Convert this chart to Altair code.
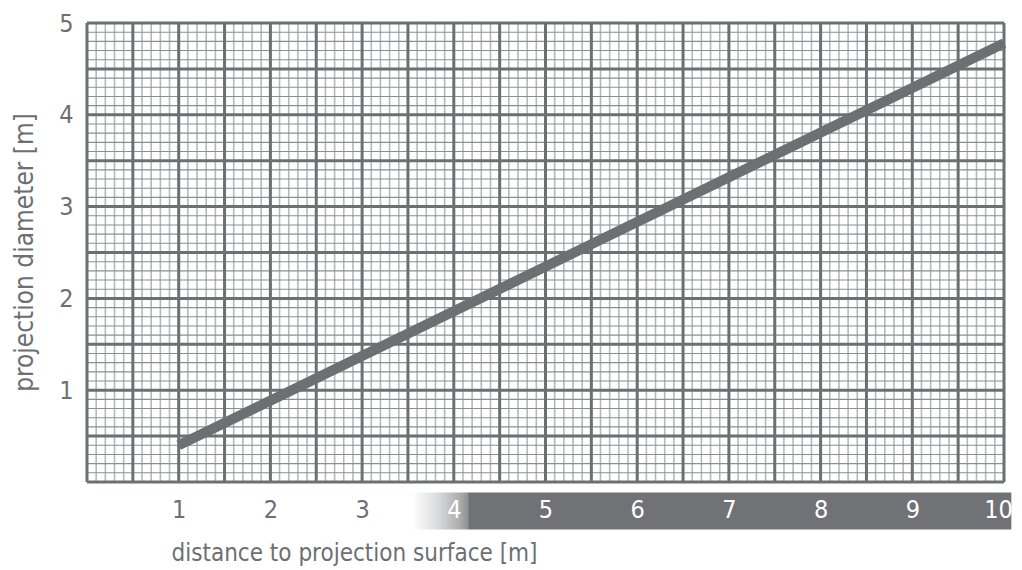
import altair as alt
import pandas as pd
import numpy as np

# ---- data ----
x_tick_values = [1, 2, 3, 4, 5, 6, 7, 8, 9, 10]
y_tick_values = [1, 2, 3, 4, 5]
line_distance = [1, 10]
line_diameter = [0.4, 4.78]
band_from = [3.55]
band_to = [10.08]

# grid positions (graph-paper)
x_all = np.round(np.arange(0, 10.0001, 0.1), 1)
y_all = np.round(np.arange(0, 5.0001, 0.1), 1)
x_major = [v for v in x_all if round(v * 10) % 5 == 0]
x_minor = [v for v in x_all if round(v * 10) % 5 != 0]
y_major = [v for v in y_all if round(v * 10) % 5 == 0]
y_minor = [v for v in y_all if round(v * 10) % 5 != 0]

FONT = "Liberation Sans Narrow, DejaVu Sans Condensed, Roboto, sans-serif"
DARK = "#6d6f72"

xs = alt.Scale(domain=[0, 10], nice=False, zero=False)
ys = alt.Scale(domain=[0, 5], nice=False, zero=False)

xaxis = alt.Axis(
    values=x_tick_values, title="distance to projection surface [m]",
    grid=False, ticks=False, tickSize=0, domain=False, labelFlush=False,
    labelOverlap=False, labelFont=FONT, labelFontSize=25, labelPadding=15,
    labelColor={"expr": "datum.value >= 4 ? '#ffffff' : '#6d6f72'"},
    labelOffset={"expr": "datum.value == 10 ? -6 : 0"},
    titleFont=FONT, titleFontSize=24, titleFontWeight="normal", titleColor=DARK,
    titleX=84, titleY=71, titleAlign="left", titleBaseline="middle",
    zindex=1,
)
yaxis = alt.Axis(
    values=y_tick_values, title="projection diameter [m]",
    grid=False, ticks=False, tickSize=0, domain=False,
    labelFont=FONT, labelFontSize=25, labelPadding=14, labelColor=DARK,
    titleFont=FONT, titleFontSize=26, titleFontWeight="normal", titleColor=DARK,
    titleX=-63, titleY=229, titleAlign="center", titleBaseline="middle", titleAngle=270,
)

vminor = alt.Chart(pd.DataFrame({"v": x_minor})).mark_rule(
    color="#b6b8ba", strokeWidth=1.6
).encode(x=alt.X("v:Q", scale=xs, axis=xaxis))

hminor = alt.Chart(pd.DataFrame({"v": y_minor})).mark_rule(
    color="#8c8e91", strokeWidth=1.1
).encode(y=alt.Y("v:Q", scale=ys, axis=yaxis))

vmajor = alt.Chart(pd.DataFrame({"v": x_major})).mark_rule(
    color=DARK, strokeWidth=3
).encode(x=alt.X("v:Q", scale=xs, axis=xaxis))

hmajor = alt.Chart(pd.DataFrame({"v": y_major})).mark_rule(
    color=DARK, strokeWidth=3
).encode(y=alt.Y("v:Q", scale=ys, axis=yaxis))

line = alt.Chart(pd.DataFrame({"d": line_distance, "p": line_diameter})).mark_line(
    color=DARK, strokeWidth=10, strokeCap="butt"
).encode(
    x=alt.X("d:Q", scale=xs, axis=xaxis),
    y=alt.Y("p:Q", scale=ys, axis=yaxis),
)

gradient = {
    "gradient": "linear", "x1": 0, "x2": 1, "y1": 0, "y2": 0,
    "stops": [
        {"offset": 0.0, "color": "#ffffff"},
        {"offset": 0.04, "color": "#dcdddf"},
        {"offset": 0.08, "color": "#a9abad"},
        {"offset": 0.092, "color": "#8f9194"},
        {"offset": 0.095, "color": "#707276"},
        {"offset": 1.0, "color": "#707276"},
    ],
}
band = alt.Chart(pd.DataFrame({"s": band_from, "e": band_to})).mark_rect(
    fill=gradient
).encode(
    x=alt.X("s:Q", scale=xs, axis=xaxis),
    x2="e:Q",
    y=alt.value(469.5),
    y2=alt.value(506.5),
)

chart = alt.layer(vminor, hminor, vmajor, hmajor, line, band).properties(
    width=917, height=459,
    autosize=alt.AutoSizeParams(type="none"),
    padding={"left": 79, "top": 15, "right": 10, "bottom": 86},
    background="white",
).configure_view(stroke=None)

chart.save("out.html", embed_options={"renderer": "svg", "actions": False})
